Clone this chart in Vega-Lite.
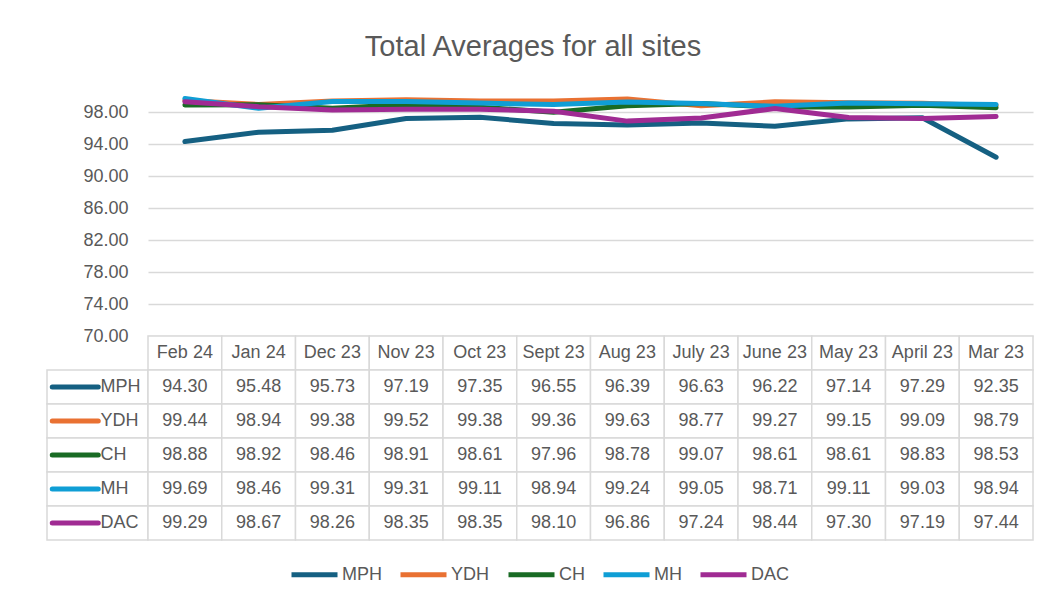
{
  "$schema": "https://vega.github.io/schema/vega-lite/v6.json",
  "background": "white",
  "padding": {"left": 42, "top": 32, "right": 10, "bottom": 5},
  "title": {"text": "Total Averages for all sites", "anchor": "middle", "fontSize": 29, "font": "Liberation Sans", "fontWeight": "normal", "color": "#595959", "offset": 34, "dx": -5},
  "config": {
    "view": {"stroke": null},
    "font": "Liberation Sans",
    "legend": {"orient": "none", "legendX": 242, "legendY": 453, "direction": "horizontal", "title": null, "symbolType": "stroke", "symbolSize": 2116, "symbolStrokeWidth": 5, "labelFontSize": 18, "labelColor": "#595959", "labelFont": "Liberation Sans", "labelOffset": 2, "columnPadding": 8}
  },
  "datasets": {
    "avg": [
      {"month": "Feb 24", "site": "MPH", "value": 94.30},
      {"month": "Jan 24", "site": "MPH", "value": 95.48},
      {"month": "Dec 23", "site": "MPH", "value": 95.73},
      {"month": "Nov 23", "site": "MPH", "value": 97.19},
      {"month": "Oct 23", "site": "MPH", "value": 97.35},
      {"month": "Sept 23", "site": "MPH", "value": 96.55},
      {"month": "Aug 23", "site": "MPH", "value": 96.39},
      {"month": "July 23", "site": "MPH", "value": 96.63},
      {"month": "June 23", "site": "MPH", "value": 96.22},
      {"month": "May 23", "site": "MPH", "value": 97.14},
      {"month": "April 23", "site": "MPH", "value": 97.29},
      {"month": "Mar 23", "site": "MPH", "value": 92.35},
      {"month": "Feb 24", "site": "YDH", "value": 99.44},
      {"month": "Jan 24", "site": "YDH", "value": 98.94},
      {"month": "Dec 23", "site": "YDH", "value": 99.38},
      {"month": "Nov 23", "site": "YDH", "value": 99.52},
      {"month": "Oct 23", "site": "YDH", "value": 99.38},
      {"month": "Sept 23", "site": "YDH", "value": 99.36},
      {"month": "Aug 23", "site": "YDH", "value": 99.63},
      {"month": "July 23", "site": "YDH", "value": 98.77},
      {"month": "June 23", "site": "YDH", "value": 99.27},
      {"month": "May 23", "site": "YDH", "value": 99.15},
      {"month": "April 23", "site": "YDH", "value": 99.09},
      {"month": "Mar 23", "site": "YDH", "value": 98.79},
      {"month": "Feb 24", "site": "CH", "value": 98.88},
      {"month": "Jan 24", "site": "CH", "value": 98.92},
      {"month": "Dec 23", "site": "CH", "value": 98.46},
      {"month": "Nov 23", "site": "CH", "value": 98.91},
      {"month": "Oct 23", "site": "CH", "value": 98.61},
      {"month": "Sept 23", "site": "CH", "value": 97.96},
      {"month": "Aug 23", "site": "CH", "value": 98.78},
      {"month": "July 23", "site": "CH", "value": 99.07},
      {"month": "June 23", "site": "CH", "value": 98.61},
      {"month": "May 23", "site": "CH", "value": 98.61},
      {"month": "April 23", "site": "CH", "value": 98.83},
      {"month": "Mar 23", "site": "CH", "value": 98.53},
      {"month": "Feb 24", "site": "MH", "value": 99.69},
      {"month": "Jan 24", "site": "MH", "value": 98.46},
      {"month": "Dec 23", "site": "MH", "value": 99.31},
      {"month": "Nov 23", "site": "MH", "value": 99.31},
      {"month": "Oct 23", "site": "MH", "value": 99.11},
      {"month": "Sept 23", "site": "MH", "value": 98.94},
      {"month": "Aug 23", "site": "MH", "value": 99.24},
      {"month": "July 23", "site": "MH", "value": 99.05},
      {"month": "June 23", "site": "MH", "value": 98.71},
      {"month": "May 23", "site": "MH", "value": 99.11},
      {"month": "April 23", "site": "MH", "value": 99.03},
      {"month": "Mar 23", "site": "MH", "value": 98.94},
      {"month": "Feb 24", "site": "DAC", "value": 99.29},
      {"month": "Jan 24", "site": "DAC", "value": 98.67},
      {"month": "Dec 23", "site": "DAC", "value": 98.26},
      {"month": "Nov 23", "site": "DAC", "value": 98.35},
      {"month": "Oct 23", "site": "DAC", "value": 98.35},
      {"month": "Sept 23", "site": "DAC", "value": 98.10},
      {"month": "Aug 23", "site": "DAC", "value": 96.86},
      {"month": "July 23", "site": "DAC", "value": 97.24},
      {"month": "June 23", "site": "DAC", "value": 98.44},
      {"month": "May 23", "site": "DAC", "value": 97.30},
      {"month": "April 23", "site": "DAC", "value": 97.19},
      {"month": "Mar 23", "site": "DAC", "value": 97.44}
    ]
  },
  "columns": 2,
  "spacing": 0,
  "bounds": "flush",
  "concat": [
    {
      "width": 101,
      "height": 240,
      "data": {"values": []},
      "mark": "text"
    },
    {
      "width": 885,
      "height": 240,
      "data": {"name": "avg"},
      "mark": {"type": "line", "strokeWidth": 5, "strokeCap": "round", "strokeJoin": "round"},
      "encoding": {
        "x": {"field": "month", "type": "ordinal", "sort": ["Feb 24", "Jan 24", "Dec 23", "Nov 23", "Oct 23", "Sept 23", "Aug 23", "July 23", "June 23", "May 23", "April 23", "Mar 23"], "scale": {"type": "point", "padding": 0.5}, "axis": null},
        "y": {"field": "value", "type": "quantitative", "scale": {"domain": [70, 100], "nice": false, "zero": false}, "axis": {"values": [70, 74, 78, 82, 86, 90, 94, 98], "format": ".2f", "labelFontSize": 18, "labelColor": "#595959", "labelPadding": 20, "grid": true, "gridColor": "#d9d9d9", "gridWidth": 1.5, "domain": false, "ticks": false, "title": null}},
        "color": {"field": "site", "type": "nominal", "scale": {"domain": ["MPH", "YDH", "CH", "MH", "DAC"], "range": ["#156082", "#E97132", "#196B24", "#0F9ED5", "#A02B93"]}},
        "order": {"value": 0}
      }
    },
    {
      "width": 101,
      "height": 204,
      "data": {"name": "avg"},
      "transform": [{"filter": "datum.month === 'Feb 24'"}],
      "encoding": {
        "y": {"field": "site", "type": "nominal", "scale": {"type": "band", "domain": ["hdr", "MPH", "YDH", "CH", "MH", "DAC"], "paddingInner": 0, "paddingOuter": 0}, "axis": null}
      },
      "layer": [
        {"mark": {"type": "rect", "fill": "white", "stroke": "#d9d9d9", "strokeWidth": 1.5}},
        {
          "mark": {"type": "point", "shape": "stroke", "size": 2116, "strokeWidth": 5, "strokeCap": "round", "opacity": 1, "xOffset": 3},
          "encoding": {
            "x": {"datum": "sw", "type": "nominal", "scale": {"type": "band", "domain": ["sw", "lbl"], "paddingInner": 0, "paddingOuter": 0}, "axis": null},
            "color": {"field": "site", "type": "nominal", "scale": {"domain": ["MPH", "YDH", "CH", "MH", "DAC"], "range": ["#156082", "#E97132", "#196B24", "#0F9ED5", "#A02B93"]}}
          }
        },
        {
          "mark": {"type": "text", "align": "left", "fontSize": 18, "color": "#595959", "dx": 3},
          "encoding": {
            "x": {"datum": "lbl", "type": "nominal", "bandPosition": 0},
            "text": {"field": "site"}
          }
        }
      ]
    },
    {
      "width": 885,
      "height": 204,
      "data": {"name": "avg"},
      "encoding": {
        "x": {"field": "month", "type": "ordinal", "sort": ["Feb 24", "Jan 24", "Dec 23", "Nov 23", "Oct 23", "Sept 23", "Aug 23", "July 23", "June 23", "May 23", "April 23", "Mar 23"], "scale": {"type": "band", "paddingInner": 0, "paddingOuter": 0}, "axis": null}
      },
      "layer": [
        {
          "transform": [{"filter": "datum.site === 'MPH'"}],
          "mark": {"type": "rect", "fill": "white", "stroke": "#d9d9d9", "strokeWidth": 1.5},
          "encoding": {"y": {"datum": "hdr", "type": "nominal", "scale": {"type": "band", "domain": ["hdr", "MPH", "YDH", "CH", "MH", "DAC"], "paddingInner": 0, "paddingOuter": 0}, "axis": null}}
        },
        {
          "mark": {"type": "rect", "fill": "white", "stroke": "#d9d9d9", "strokeWidth": 1.5},
          "encoding": {"y": {"field": "site", "type": "nominal"}}
        },
        {
          "transform": [{"filter": "datum.site === 'MPH'"}],
          "mark": {"type": "text", "fontSize": 18, "color": "#595959"},
          "encoding": {"y": {"datum": "hdr", "type": "nominal"}, "text": {"field": "month"}}
        },
        {
          "mark": {"type": "text", "fontSize": 18, "color": "#595959"},
          "encoding": {"y": {"field": "site", "type": "nominal"}, "text": {"field": "value", "format": ".2f"}}
        }
      ]
    }
  ]
}
